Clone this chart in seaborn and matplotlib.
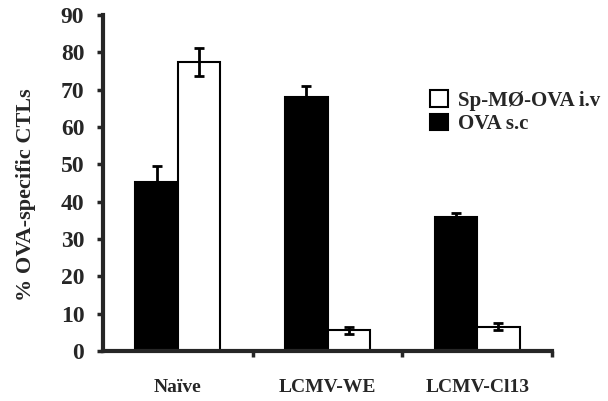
import pandas as pd
import matplotlib
matplotlib.use("Agg")
import matplotlib.pyplot as plt
from matplotlib.patches import Patch
from matplotlib.ticker import FixedLocator
import seaborn as sns

groups = ["Naïve", "LCMV-WE", "LCMV-Cl13"]
treatments = ["OVA s.c", "Sp-MØ-OVA i.v"]
ova_sc = [45.3, 68.0, 36.0]
ova_sc_err = [4.2, 3.0, 1.0]
spmo_iv = [77.4, 5.5, 6.5]
spmo_iv_err = [3.8, 1.0, 1.0]

df = pd.DataFrame({
    "group": groups * 2,
    "treat": [treatments[0]] * 3 + [treatments[1]] * 3,
    "value": ova_sc + spmo_iv,
    "err": ova_sc_err + spmo_iv_err,
})

sns.set_style("ticks")
plt.rcParams["font.family"] = ["Liberation Serif", "DejaVu Serif"]
plt.rcParams["font.weight"] = "bold"

fig = plt.figure(figsize=(6.08, 4.01), dpi=100)
ax = fig.add_axes([103 / 608, 50 / 401, 449 / 608, 336 / 401])

sns.barplot(data=df, x="group", y="value", hue="treat", order=groups,
            hue_order=treatments, palette=["black", "white"], width=0.57,
            gap=0, errorbar=None, edgecolor="black", linewidth=1.5,
            legend=False, ax=ax)

# error bars on top of each bar, placed from the bar patches
for container, t in zip(ax.containers, treatments):
    sub = df[df["treat"] == t].set_index("group").loc[groups]
    xs = [p.get_x() + p.get_width() / 2 for p in container]
    ax.errorbar(xs, sub["value"], yerr=sub["err"], fmt="none",
                ecolor="black", elinewidth=2, capsize=3.5, capthick=2, zorder=3)

ax.set_xlim(-0.5, 2.5)
ax.set_ylim(0, 90)
ax.set_yticks(range(0, 91, 10))
ax.set_xlabel("")
ax.set_ylabel("% OVA-specific CTLs", fontsize=16, fontweight="bold")
ax.yaxis.set_label_coords(-0.15, 0.464)
ax.tick_params(axis="y", labelsize=17, width=2.5, length=4.5, pad=9, direction="out")
ax.tick_params(axis="x", which="major", length=0, pad=20, labelsize=14)
ax.xaxis.set_minor_locator(FixedLocator([0.5, 1.5, 2.5]))
ax.tick_params(axis="x", which="minor", length=4, width=2.5, direction="out")
for lab in ax.get_xticklabels() + ax.get_yticklabels():
    lab.set_fontweight("bold")
sns.despine(ax=ax)
ax.spines["left"].set_linewidth(3)
ax.spines["bottom"].set_linewidth(3)

handles = [Patch(facecolor="white", edgecolor="black", linewidth=1.5, label=treatments[1]),
           Patch(facecolor="black", edgecolor="black", linewidth=1.5, label=treatments[0])]
fig.legend(handles=handles, loc="upper left", bbox_to_anchor=(428 / 608, 1 - 88 / 401),
           frameon=False, prop={"family": "Liberation Serif", "weight": "bold", "size": 15},
           handlelength=0.85, handleheight=0.85, handletextpad=0.5, labelspacing=0.15,
           borderpad=0.1, borderaxespad=0)

fig.savefig("out.png", dpi=100)
